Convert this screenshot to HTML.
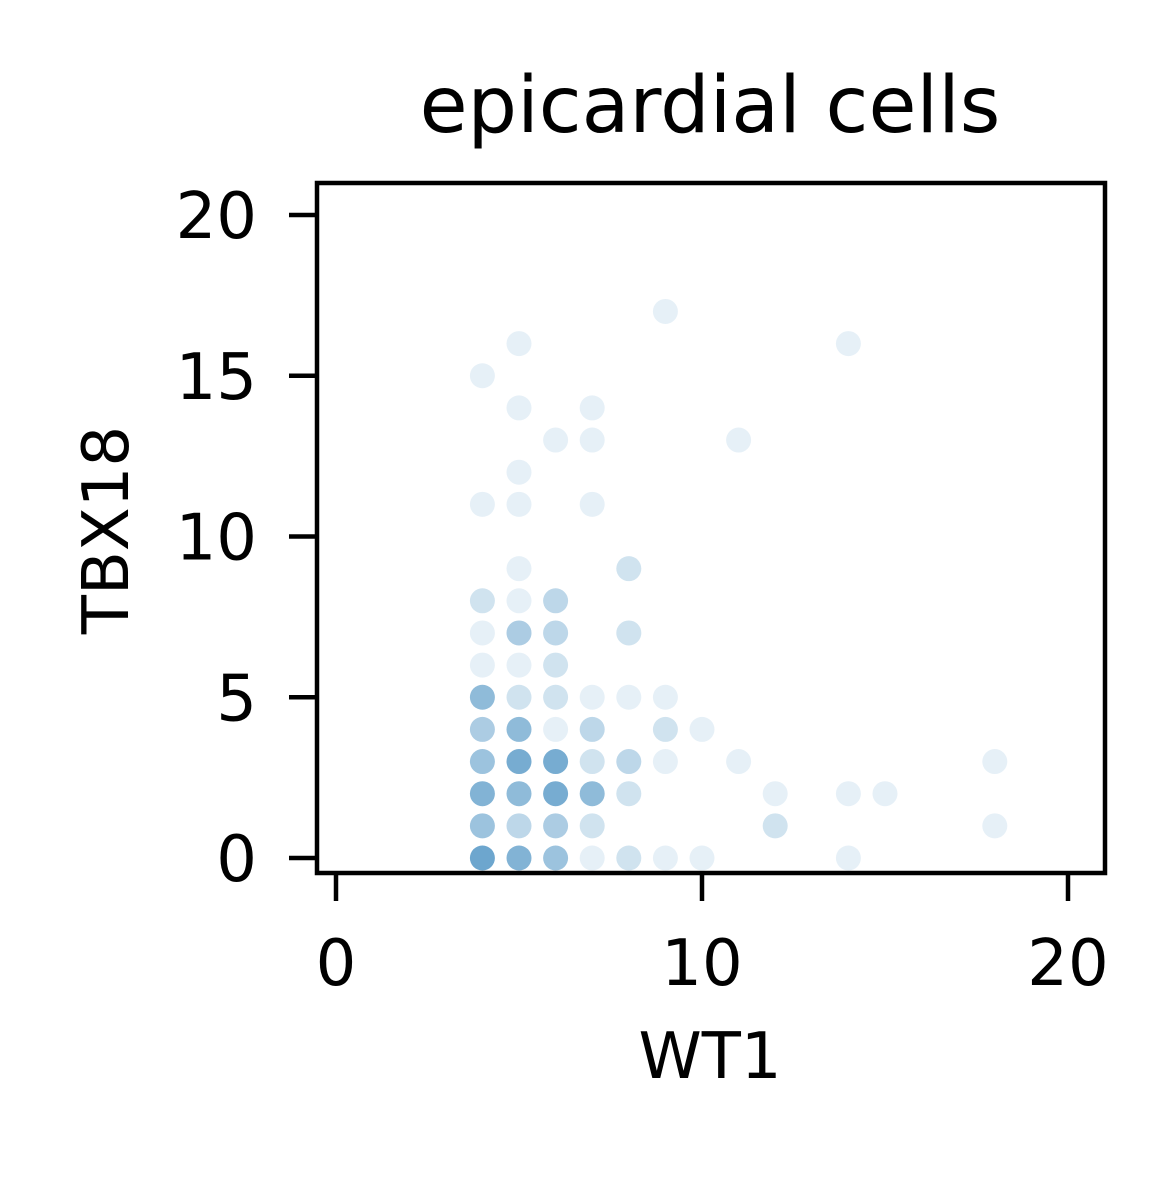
<!DOCTYPE html>
<html><head><meta charset="utf-8"><style>
html,body{margin:0;padding:0;background:#fff;}
svg text{font-family:"DejaVu Sans","Liberation Sans",sans-serif;fill:#000;}
</style></head><body>
<svg id="chart" width="1176" height="1176" xmlns="http://www.w3.org/2000/svg">
<text x="710" y="132" font-size="78" text-anchor="middle">epicardial cells</text>
<g id="points"></g>
<rect x="317" y="183" width="788" height="690" fill="none" stroke="#000" stroke-width="4.5"/>
<g id="axes"></g>
<text x="710" y="1078" font-size="64" text-anchor="middle">WT1</text>
<text transform="translate(128,530) rotate(-90)" font-size="64" text-anchor="middle">TBX18</text>
</svg>
<script>
const xs=[4,5,9,14,5,7,6,7,11,5,4,5,7,5,8,4,5,6,4,5,6,8,4,5,6,4,5,6,7,8,9,4,5,6,7,9,10,4,5,6,7,8,9,11,18,4,5,6,7,8,12,14,15,4,5,6,7,12,18,4,5,6,7,8,9,10,14];
const ys=[15,16,17,16,14,14,13,13,13,12,11,11,11,9,9,8,8,8,7,7,7,7,6,6,6,5,5,5,5,5,5,4,4,4,4,4,4,3,3,3,3,3,3,3,3,2,2,2,2,2,2,2,2,1,1,1,1,1,1,0,0,0,0,0,0,0,0];
const counts=[1,1,1,1,1,1,1,1,1,1,1,1,1,1,2,2,1,3,1,4,3,2,1,1,2,6,2,2,1,1,1,4,6,1,3,2,1,5,8,8,2,3,1,1,1,7,6,8,6,2,1,1,1,5,3,4,2,2,1,9,7,5,1,2,1,1,1];
const xTicks=[0,10,20];
const yTicks=[0,5,10,15,20];
const X=v=>336+v*36.6;
const Y=v=>858-v*32.15;
const NS="http://www.w3.org/2000/svg";
const pg=document.getElementById('points');
for(let i=0;i<xs.length;i++){
  const c=document.createElementNS(NS,'circle');
  
  
  c.setAttribute('cx',X(xs[i]));c.setAttribute('cy',Y(ys[i]));c.setAttribute('r',12.5);
  c.setAttribute('fill','rgb(31,119,180)');
  c.setAttribute('fill-opacity',(1-Math.pow(0.89,counts[i])).toFixed(3));
  pg.appendChild(c);
}
const ag=document.getElementById('axes');
for(const t of xTicks){
  const l=document.createElementNS(NS,'line');
  
  
  l.setAttribute('x1',X(t));l.setAttribute('x2',X(t));l.setAttribute('y1',873);l.setAttribute('y2',901);
  l.setAttribute('stroke','#000');l.setAttribute('stroke-width',4.5);ag.appendChild(l);
  const tx=document.createElementNS(NS,'text');
  
  
  tx.setAttribute('x',X(t));tx.setAttribute('y',985);tx.setAttribute('font-size',64);tx.setAttribute('text-anchor','middle');
  tx.textContent=t;ag.appendChild(tx);
}
for(const t of yTicks){
  const l=document.createElementNS(NS,'line');
  
  
  l.setAttribute('x1',289);l.setAttribute('x2',317);l.setAttribute('y1',Y(t));l.setAttribute('y2',Y(t));
  l.setAttribute('stroke','#000');l.setAttribute('stroke-width',4.5);ag.appendChild(l);
  const tx=document.createElementNS(NS,'text');
  
  
  tx.setAttribute('x',257);tx.setAttribute('y',Y(t)+23);tx.setAttribute('font-size',64);tx.setAttribute('text-anchor','end');
  tx.textContent=t;ag.appendChild(tx);
}
</script>
</body></html>
